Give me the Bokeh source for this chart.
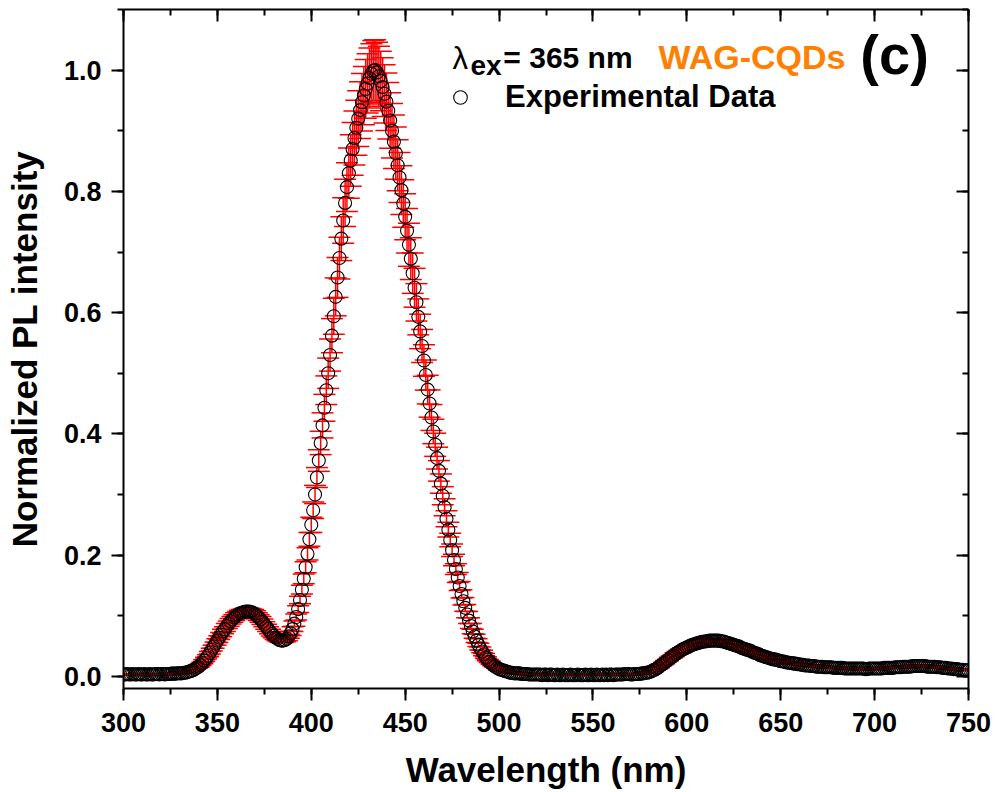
from bokeh.plotting import figure
from bokeh.models import (Range1d, LinearAxis, SingleIntervalTicker, PrintfTickFormatter,
                          CustomJSTickFormatter, ColumnDataSource, Whisker, TeeHead,
                          Legend, LegendItem, Label)
from bokeh.embed import file_html
from bokeh.resources import INLINE

# ---------------- data ----------------
wavelength = list(range(300, 751))  # nm, 1 nm step

intensity = [
    0.003, 0.003, 0.004, 0.003, 0.003, 0.004, 0.003, 0.003, 0.004, 0.003,  # 300
    0.003, 0.004, 0.003, 0.003, 0.004, 0.003, 0.003, 0.004, 0.004, 0.003,  # 310
    0.004, 0.004, 0.003, 0.004, 0.004, 0.004, 0.005, 0.004, 0.005, 0.005,  # 320
    0.005, 0.005, 0.006, 0.006, 0.007, 0.008, 0.009, 0.010, 0.012, 0.014,  # 330
    0.016, 0.019, 0.022, 0.026, 0.030, 0.034, 0.039, 0.044, 0.049, 0.054,  # 340
    0.059, 0.064, 0.069, 0.074, 0.078, 0.083, 0.087, 0.091, 0.094, 0.097,  # 350
    0.100, 0.102, 0.104, 0.105, 0.106, 0.107, 0.107, 0.107, 0.106, 0.105,  # 360
    0.103, 0.100, 0.097, 0.094, 0.090, 0.086, 0.082, 0.078, 0.074, 0.070,  # 370
    0.067, 0.064, 0.062, 0.060, 0.059, 0.059, 0.060, 0.062, 0.066, 0.071,  # 380
    0.078, 0.087, 0.098, 0.111, 0.126, 0.143, 0.161, 0.180, 0.202, 0.226,  # 390
    0.250, 0.274, 0.300, 0.328, 0.356, 0.385, 0.414, 0.443, 0.472, 0.500,  # 400
    0.530, 0.562, 0.594, 0.626, 0.658, 0.690, 0.722, 0.752, 0.781, 0.807,  # 410
    0.830, 0.851, 0.870, 0.888, 0.905, 0.920, 0.934, 0.947, 0.958, 0.969,  # 420
    0.978, 0.987, 0.994, 0.999, 1.000, 0.996, 0.990, 0.982, 0.972, 0.961,  # 430
    0.948, 0.933, 0.917, 0.900, 0.882, 0.863, 0.843, 0.823, 0.802, 0.780,  # 440
    0.758, 0.735, 0.712, 0.689, 0.665, 0.641, 0.617, 0.593, 0.569, 0.545,  # 450
    0.521, 0.497, 0.473, 0.450, 0.427, 0.404, 0.382, 0.360, 0.339, 0.318,  # 460
    0.298, 0.279, 0.260, 0.242, 0.225, 0.208, 0.192, 0.177, 0.163, 0.149,  # 470
    0.136, 0.124, 0.113, 0.102, 0.092, 0.083, 0.074, 0.066, 0.059, 0.052,  # 480
    0.046, 0.041, 0.036, 0.031, 0.027, 0.024, 0.021, 0.018, 0.016, 0.014,  # 490
    0.012, 0.011, 0.010, 0.009, 0.008, 0.007, 0.006, 0.006, 0.005, 0.005,  # 500
    0.005, 0.005, 0.004, 0.004, 0.004, 0.004, 0.003, 0.003, 0.003, 0.003,  # 510
    0.003, 0.003, 0.003, 0.002, 0.003, 0.003, 0.002, 0.003, 0.003, 0.002,  # 520
    0.002, 0.003, 0.002, 0.002, 0.003, 0.002, 0.002, 0.002, 0.003, 0.002,  # 530
    0.002, 0.002, 0.003, 0.002, 0.002, 0.002, 0.003, 0.002, 0.002, 0.003,  # 540
    0.002, 0.002, 0.003, 0.002, 0.002, 0.003, 0.002, 0.003, 0.002, 0.003,  # 550
    0.003, 0.002, 0.003, 0.003, 0.003, 0.003, 0.003, 0.004, 0.004, 0.004,  # 560
    0.003, 0.003, 0.004, 0.004, 0.004, 0.004, 0.005, 0.005, 0.006, 0.006,  # 570
    0.007, 0.008, 0.010, 0.011, 0.013, 0.015, 0.018, 0.020, 0.022, 0.025,  # 580
    0.027, 0.030, 0.032, 0.034, 0.037, 0.039, 0.041, 0.043, 0.045, 0.046,  # 590
    0.048, 0.049, 0.051, 0.052, 0.053, 0.054, 0.055, 0.056, 0.057, 0.057,  # 600
    0.058, 0.058, 0.059, 0.059, 0.059, 0.059, 0.059, 0.059, 0.058, 0.058,  # 610
    0.057, 0.056, 0.055, 0.054, 0.053, 0.052, 0.051, 0.050, 0.049, 0.047,  # 620
    0.046, 0.045, 0.044, 0.043, 0.042, 0.040, 0.039, 0.038, 0.037, 0.035,  # 630
    0.034, 0.033, 0.032, 0.031, 0.030, 0.029, 0.028, 0.028, 0.027, 0.026,  # 640
    0.025, 0.025, 0.024, 0.023, 0.023, 0.022, 0.022, 0.021, 0.021, 0.020,  # 650
    0.020, 0.019, 0.019, 0.018, 0.018, 0.018, 0.017, 0.017, 0.017, 0.016,  # 660
    0.016, 0.016, 0.016, 0.015, 0.015, 0.015, 0.015, 0.015, 0.014, 0.014,  # 670
    0.014, 0.014, 0.014, 0.014, 0.013, 0.013, 0.013, 0.013, 0.013, 0.013,  # 680
    0.013, 0.013, 0.013, 0.013, 0.013, 0.012, 0.012, 0.013, 0.013, 0.013,  # 690
    0.013, 0.013, 0.013, 0.013, 0.013, 0.014, 0.014, 0.014, 0.014, 0.014,  # 700
    0.014, 0.015, 0.015, 0.015, 0.015, 0.016, 0.016, 0.016, 0.016, 0.016,  # 710
    0.017, 0.017, 0.017, 0.017, 0.017, 0.017, 0.017, 0.017, 0.016, 0.016,  # 720
    0.016, 0.016, 0.016, 0.015, 0.015, 0.015, 0.014, 0.014, 0.014, 0.013,  # 730
    0.013, 0.013, 0.012, 0.012, 0.012, 0.011, 0.011, 0.011, 0.010, 0.010,  # 740
    0.010,                                                                 # 750
]

relative_error = 0.05   # error bars: +/- 5 % of the normalized intensity

x_ticks_interval = 50
y_ticks_interval = 0.2

series_label = "Experimental Data"
sample_name = "WAG-CQDs"
panel_tag = "(c)"

# ---------------- figure ----------------
FONT = "Liberation Sans"

upper = [v * (1 + relative_error) for v in intensity]
lower = [v * (1 - relative_error) for v in intensity]
src = ColumnDataSource(dict(x=wavelength, y=intensity, upper=upper, lower=lower))

p = figure(frame_width=845, frame_height=679,
           x_range=Range1d(300, 750), y_range=Range1d(-0.02, 1.10),
           output_backend="svg", toolbar_location=None,
           min_border_left=123, min_border_right=28, min_border_top=9, min_border_bottom=0,
           x_axis_location=None, y_axis_location=None)
p.xgrid.visible = False
p.ygrid.visible = False
p.outline_line_color = None
p.background_fill_color = "white"
p.border_fill_color = "white"


def style_axis(ax, inward, labels):
    ax.axis_line_width = 2
    ax.axis_line_color = "black"
    ax.major_tick_line_width = 2
    ax.minor_tick_line_width = 2
    ax.major_tick_line_color = "black"
    ax.minor_tick_line_color = "black"
    if inward:
        ax.major_tick_in, ax.major_tick_out = 12, 0
        ax.minor_tick_in, ax.minor_tick_out = 6, 0
    else:
        ax.major_tick_in, ax.major_tick_out = 0, 12
        ax.minor_tick_in, ax.minor_tick_out = 0, 6
    if not labels:
        ax.formatter = CustomJSTickFormatter(code="return ''")
        ax.major_label_standoff = 0
    else:
        ax.major_label_text_font = FONT
        ax.major_label_text_font_style = "bold"
        ax.major_label_text_font_size = "27px"
        ax.major_label_text_color = "black"
        ax.axis_label_text_font = FONT
        ax.axis_label_text_font_style = "bold"
        ax.axis_label_text_font_size = "35px"
        ax.axis_label_text_color = "black"


xb = LinearAxis(ticker=SingleIntervalTicker(interval=x_ticks_interval, num_minor_ticks=2),
                axis_label="Wavelength (nm)")
style_axis(xb, False, True)
xb.major_label_standoff = 12
xb.axis_label_standoff = 15
p.add_layout(xb, "below")

yl = LinearAxis(ticker=SingleIntervalTicker(interval=y_ticks_interval, num_minor_ticks=2),
                formatter=PrintfTickFormatter(format="%.1f"),
                axis_label="Normalized PL intensity")
style_axis(yl, False, True)
yl.major_label_standoff = 10
yl.axis_label_standoff = 17
p.add_layout(yl, "left")

xt = LinearAxis(ticker=SingleIntervalTicker(interval=x_ticks_interval, num_minor_ticks=2))
style_axis(xt, True, False)
p.add_layout(xt, "above")

yr = LinearAxis(ticker=SingleIntervalTicker(interval=y_ticks_interval, num_minor_ticks=2))
style_axis(yr, True, False)
p.add_layout(yr, "right")

# data: open circles + red error bars
r = p.scatter("x", "y", source=src, marker="circle", size=13,
              fill_color=None, line_color="black", line_width=1.1)

wh = Whisker(base="x", upper="upper", lower="lower", source=src,
             line_color="#FF0000", line_width=1.5,
             upper_head=TeeHead(size=22, line_color="#FF0000", line_width=1.5),
             lower_head=TeeHead(size=22, line_color="#FF0000", line_width=1.5))
p.add_layout(wh)

# legend
leg = Legend(items=[LegendItem(label=series_label, renderers=[r])],
             location=(320, 573), orientation="vertical",
             glyph_width=34, glyph_height=34, label_standoff=28,
             label_text_font=FONT, label_text_font_style="bold",
             label_text_font_size="31px", label_text_color="black",
             padding=0, margin=0, spacing=0,
             border_line_color=None, background_fill_alpha=0)
p.add_layout(leg)

# annotations (vertically centred on their glyphs)
def add_label(x, y, text, size, color="black", style="bold"):
    p.add_layout(Label(x=x, y=y, text=text, text_font=FONT, text_font_style=style,
                       text_font_size=size, text_color=color, text_baseline="middle",
                       text_align="left"))

add_label(475.2, 1.020, "\u03bb", "31px", style="normal")
add_label(484.8, 1.007, "ex", "28px")
add_label(502.3, 1.021, "= 365 nm", "30px")
add_label(584.9, 1.022, sample_name, "34px", color="#FF8000")
add_label(692.4, 1.026, panel_tag, "56px")

open("out.html", "w").write(file_html(p, INLINE))
